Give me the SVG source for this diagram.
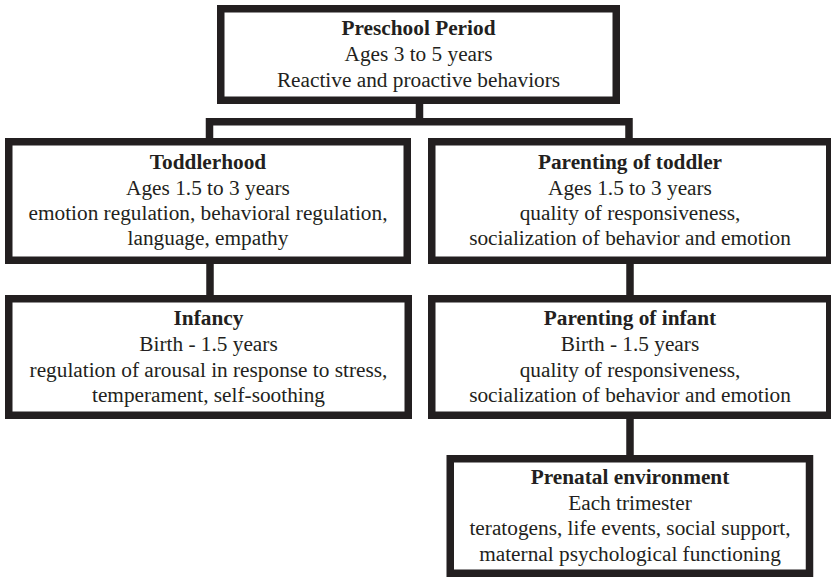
<svg xmlns="http://www.w3.org/2000/svg" width="831" height="578" viewBox="0 0 831 578">
<style>
.box{fill:#fff;stroke:#231f20;stroke-width:7.5}
.con{fill:none;stroke:#231f20;stroke-width:7.5;stroke-linejoin:miter;stroke-linecap:butt}
text{font-family:"Liberation Serif","Times New Roman",serif;font-size:21.3px;fill:#231f20;text-anchor:middle}
.t{font-weight:bold}
</style>
<rect width="831" height="578" fill="#fff"/>
<g id="connectors">
<path class="con" d="M419.5,104 V121.7"/>
<path class="con" d="M209.5,138 V121.7 H629 V138"/>
<path class="con" d="M210,264 V295"/>
<path class="con" d="M630,264 V295"/>
<path class="con" d="M630,419 V455"/>
</g>
<g id="preschool">
<rect class="box" x="220.75" y="8.75" width="395.5" height="91.5"/>
<text class="t" x="418.5" y="35">Preschool Period</text>
<text x="418.5" y="61">Ages 3 to 5 years</text>
<text x="418.5" y="86.5">Reactive and proactive behaviors</text>
</g>
<g id="toddlerhood">
<rect class="box" x="8.75" y="141.75" width="398.5" height="118.5"/>
<text class="t" x="208" y="168.5">Toddlerhood</text>
<text x="208" y="194.5">Ages 1.5 to 3 years</text>
<text x="208" y="219.5">emotion regulation, behavioral regulation,</text>
<text x="208" y="245">language, empathy</text>
</g>
<g id="parenting-toddler">
<rect class="box" x="431.75" y="141.75" width="398" height="118.5"/>
<text class="t" x="630" y="168.5">Parenting of toddler</text>
<text x="630" y="194.5">Ages 1.5 to 3 years</text>
<text x="630" y="219.5">quality of responsiveness,</text>
<text x="630" y="245">socialization of behavior and emotion</text>
</g>
<g id="infancy">
<rect class="box" x="8.75" y="298.75" width="399.5" height="116.5"/>
<text class="t" x="208.5" y="325">Infancy</text>
<text x="208.5" y="351">Birth - 1.5 years</text>
<text x="208.5" y="376.5">regulation of arousal in response to stress,</text>
<text x="208.5" y="402">temperament, self-soothing</text>
</g>
<g id="parenting-infant">
<rect class="box" x="431.75" y="298.75" width="398" height="116.5"/>
<text class="t" x="630" y="325">Parenting of infant</text>
<text x="630" y="351">Birth - 1.5 years</text>
<text x="630" y="376.5">quality of responsiveness,</text>
<text x="630" y="402">socialization of behavior and emotion</text>
</g>
<g id="prenatal">
<rect class="box" x="450.25" y="458.75" width="359.25" height="114.5"/>
<text class="t" x="630" y="484">Prenatal environment</text>
<text x="630" y="510">Each trimester</text>
<text x="630" y="535">teratogens, life events, social support,</text>
<text x="630" y="561">maternal psychological functioning</text>
</g>
</svg>
